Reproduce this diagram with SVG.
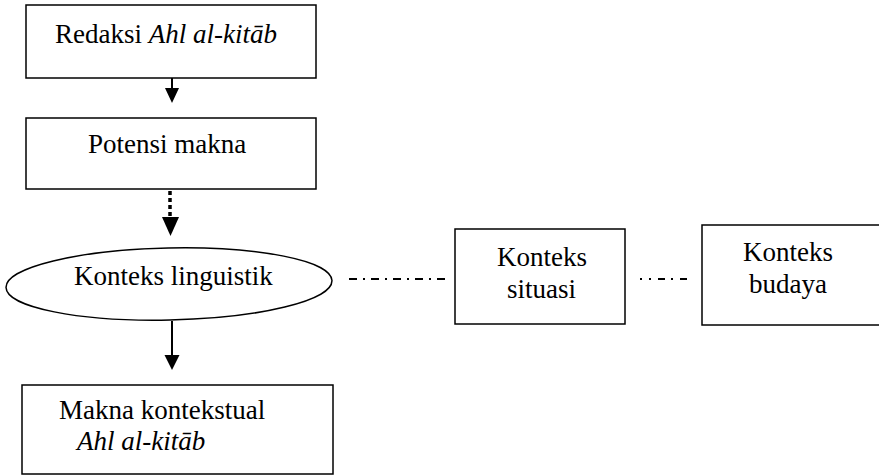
<svg xmlns="http://www.w3.org/2000/svg" width="879" height="476" viewBox="0 0 879 476">
<style>
.box{fill:#fff;stroke:#000;stroke-width:1.5}
.t{font-family:"Liberation Serif","Times New Roman",serif;font-size:27px;fill:#000}
.i{font-style:italic}
.arr{stroke:#000;stroke-width:2;fill:none}
.head{fill:#000;stroke:none}
.dd{stroke:#000;stroke-width:2;fill:none}
</style>
<rect width="879" height="476" fill="#fff"/>
<g id="connectors">
<line class="arr" x1="172" y1="78" x2="172" y2="90"/>
<polygon class="head" points="165,88 179,88 172,103"/>
<line x1="170" y1="191" x2="170" y2="217" stroke="#000" stroke-width="3.5" stroke-dasharray="4 3"/>
<polygon class="head" points="162,217 179,217 170.5,236"/>
<line class="arr" x1="172" y1="321" x2="172" y2="357"/>
<polygon class="head" points="164.5,355 179.5,355 172,370"/>
<line class="dd" x1="349" y1="279" x2="445" y2="279" stroke-dasharray="8 6 2 6"/>
<line class="dd" x1="640" y1="279" x2="687" y2="279" stroke-dasharray="2 7 2 7 7 6 2 7 7 100"/>
</g>
<g id="redaksi">
<rect class="box" x="26" y="5" width="290" height="73"/>
<text class="t" x="55" y="43">Redaksi <tspan class="i">Ahl al-kitāb</tspan></text>
</g>
<g id="potensi">
<rect class="box" x="26" y="118" width="290" height="71"/>
<text class="t" x="88" y="153">Potensi makna</text>
</g>
<g id="linguistik">
<ellipse class="box" cx="169" cy="284" rx="163" ry="36" transform="rotate(-1.2 169 284)"/>
<text class="t" x="74" y="285">Konteks linguistik</text>
</g>
<g id="situasi">
<rect class="box" x="455" y="229" width="170" height="95"/>
<text class="t" x="497" y="266">Konteks</text>
<text class="t" x="507" y="298">situasi</text>
</g>
<g id="budaya">
<rect class="box" x="702" y="225" width="190" height="100"/>
<text class="t" x="743" y="261">Konteks</text>
<text class="t" x="749" y="293">budaya</text>
</g>
<g id="kontekstual">
<rect class="box" x="22" y="385" width="311" height="89"/>
<text class="t" x="59" y="419">Makna kontekstual</text>
<text class="t i" x="77" y="450">Ahl al-kitāb</text>
</g>
</svg>
